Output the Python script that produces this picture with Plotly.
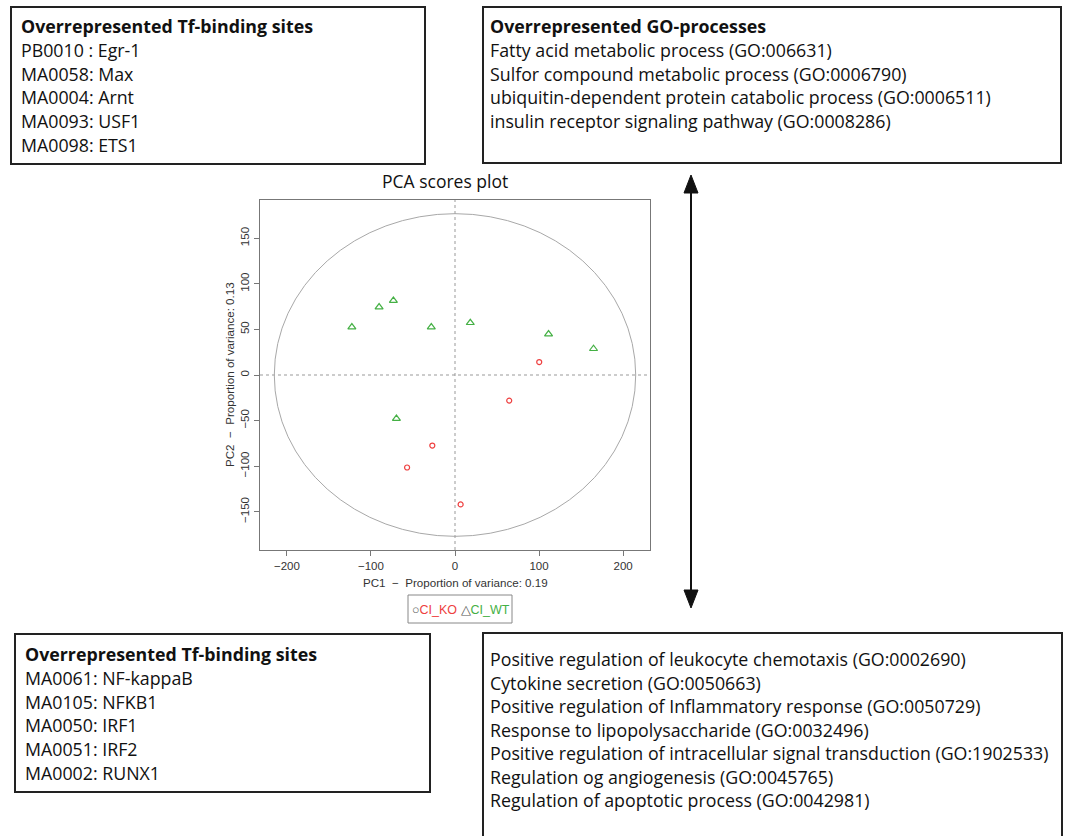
import plotly.graph_objects as go

W, H = 1065, 836

# ---- data ----
ko_pc1 = [100.2, 64.5, -27.0, -57.0, 6.7]
ko_pc2 = [14.2, -28.1, -77.4, -101.5, -142.0]
wt_pc1 = [-122.7, -90.3, -73.3, -28.2, 18.2, 111.3, 164.8, -69.7]
wt_pc2 = [52.6, 74.5, 81.7, 52.6, 57.3, 44.9, 28.8, -47.8]
ellipse_rx = 215
ellipse_ry = 177
x_ticks = [-200, -100, 0, 100, 200]
y_ticks = [-150, -100, -50, 0, 50, 100, 150]
series_names = ["CI_KO", "CI_WT"]

tf_top_title = "Overrepresented Tf-binding sites"
tf_top = ["PB0010 : Egr-1", "MA0058: Max", "MA0004: Arnt", "MA0093: USF1", "MA0098: ETS1"]
go_top_title = "Overrepresented GO-processes"
go_top = ["Fatty acid metabolic process (GO:006631)",
          "Sulfor compound metabolic process (GO:0006790)",
          "ubiquitin-dependent protein catabolic process (GO:0006511)",
          "insulin receptor signaling pathway (GO:0008286)"]
tf_bot_title = "Overrepresented Tf-binding sites"
tf_bot = ["MA0061: NF-kappaB", "MA0105: NFKB1", "MA0050: IRF1", "MA0051: IRF2", "MA0002: RUNX1"]
go_bot = ["Positive regulation of leukocyte chemotaxis (GO:0002690)",
          "Cytokine secretion (GO:0050663)",
          "Positive regulation of Inflammatory response (GO:0050729)",
          "Response to lipopolysaccharide (GO:0032496)",
          "Positive regulation of intracellular signal transduction (GO:1902533)",
          "Regulation og angiogenesis (GO:0045765)",
          "Regulation of apoptotic process (GO:0042981)"]

RED = "#ee4040"
GREEN = "#44b044"
TXT_FONT = "Open Sans"
R_FONT = "Liberation Sans"
TXT_SIZE = 17.8


def px(x):
    return x / W


def py(y):
    return 1 - y / H


fig = go.Figure()
fig.add_trace(go.Scatter(x=ko_pc1, y=ko_pc2, mode="markers", name=series_names[0],
                         marker=dict(symbol="circle-open", size=5, color=RED, line=dict(width=1.2)),
                         showlegend=False))
fig.add_trace(go.Scatter(x=wt_pc1, y=wt_pc2, mode="markers", name=series_names[1],
                         marker=dict(symbol="triangle-up-open", size=7, color=GREEN, line=dict(width=1.2)),
                         showlegend=False))

shapes = []
# ellipse and reference lines
shapes.append(dict(type="circle", xref="x", yref="y", x0=-ellipse_rx, x1=ellipse_rx,
                   y0=-ellipse_ry, y1=ellipse_ry, line=dict(color="#a8a8a8", width=1), layer="below"))
shapes.append(dict(type="line", xref="x", yref="paper", x0=0, x1=0, y0=py(550), y1=py(200),
                   line=dict(color="#999999", width=1, dash="dot"), layer="below"))
shapes.append(dict(type="line", xref="paper", yref="y", x0=px(260), x1=px(650), y0=0, y1=0,
                   line=dict(color="#999999", width=1, dash="dot"), layer="below"))


def box(x0, y0, x1, y1):
    shapes.append(dict(type="rect", xref="paper", yref="paper", x0=px(x0), x1=px(x1),
                       y0=py(y1), y1=py(y0), line=dict(color="#222222", width=2)))


box(11, 7, 425, 164)
box(483, 7, 1061, 163)
box(15, 634, 430, 792)
box(483, 633, 1062, 840)
# legend box
shapes.append(dict(type="rect", xref="paper", yref="paper", x0=px(408), x1=px(512),
                   y0=py(623), y1=py(595), line=dict(color="#888888", width=1)))
# arrow line
shapes.append(dict(type="line", xref="paper", yref="paper", x0=px(691), x1=px(691),
                   y0=py(598), y1=py(184), line=dict(color="#111111", width=2)))
# arrow heads
shapes.append(dict(type="path", xref="paper", yref="paper",
                   path=f"M {px(691)} {py(175)} L {px(684)} {py(193)} L {px(698)} {py(193)} Z",
                   fillcolor="#111111", line=dict(color="#111111", width=1)))
shapes.append(dict(type="path", xref="paper", yref="paper",
                   path=f"M {px(691)} {py(608)} L {px(684)} {py(590)} L {px(698)} {py(590)} Z",
                   fillcolor="#111111", line=dict(color="#111111", width=1)))

ann = []


def text_block(x, y0, title, lines, step=23.8):
    y = y0
    if title:
        ann.append(dict(text=f"<b>{title}</b>", x=px(x), y=py(y), xref="paper", yref="paper",
                        xanchor="left", yanchor="middle", showarrow=False,
                        font=dict(family=TXT_FONT, size=TXT_SIZE, color="#111111")))
        y += step
    for ln in lines:
        ann.append(dict(text=ln, x=px(x), y=py(y), xref="paper", yref="paper",
                        xanchor="left", yanchor="middle", showarrow=False,
                        font=dict(family=TXT_FONT, size=TXT_SIZE, color="#111111")))
        y += step


text_block(19, 26, tf_top_title, tf_top)
text_block(488, 26, go_top_title, go_top)
text_block(23, 654, tf_bot_title, tf_bot)
text_block(488, 659, None, go_bot, step=23.5)

# plot title
ann.append(dict(text="PCA scores plot", x=px(445), y=py(181), xref="paper", yref="paper",
                xanchor="center", yanchor="middle", showarrow=False,
                font=dict(family=TXT_FONT, size=17.5, color="#111111")))
# axis titles
ann.append(dict(text="PC1  \u2212  Proportion of variance: 0.19", x=px(455), y=py(582), xref="paper",
                yref="paper", xanchor="center", yanchor="middle", showarrow=False,
                font=dict(family=R_FONT, size=11.6, color="#333333")))
ann.append(dict(text="PC2  \u2212  Proportion of variance: 0.13", x=px(229), y=py(375), xref="paper",
                yref="paper", xanchor="center", yanchor="middle", showarrow=False, textangle=-90,
                font=dict(family=R_FONT, size=11.6, color="#333333")))
# legend
ann.append(dict(text=f"<span style='color:#555555'>\u25CB</span><span style='color:{RED}'>{series_names[0]}</span>"
                     f" <span style='color:#555555'>\u25B3</span><span style='color:{GREEN}'>{series_names[1]}</span>",
                x=px(461), y=py(610), xref="paper", yref="paper", xanchor="center", yanchor="middle",
                showarrow=False, font=dict(family=R_FONT, size=12.5)))

axis_common = dict(showline=True, linecolor="#777777", linewidth=1, mirror=True, ticks="outside",
                   ticklen=5, tickcolor="#777777", showgrid=False, zeroline=False,
                   tickfont=dict(family=R_FONT, size=11.5, color="#333333"))

fig.update_layout(
    width=W, height=H, margin=dict(l=0, r=0, t=0, b=0),
    paper_bgcolor="white", plot_bgcolor="white",
    xaxis=dict(domain=[px(260), px(650)], range=[-232, 232], tickvals=x_ticks,
               ticktext=[str(v).replace("-", "\u2212") for v in x_ticks], **axis_common),
    yaxis=dict(domain=[py(550), py(200)], range=[-192, 192], tickvals=y_ticks,
               ticktext=[str(v).replace("-", "\u2212") for v in y_ticks], tickangle=-90,
               **axis_common),
    shapes=shapes, annotations=ann, showlegend=False,
)

fig.write_html("out.html", config={"displayModeBar": False},
               post_script="document.body.style.margin='0';document.body.style.overflow='hidden';")
